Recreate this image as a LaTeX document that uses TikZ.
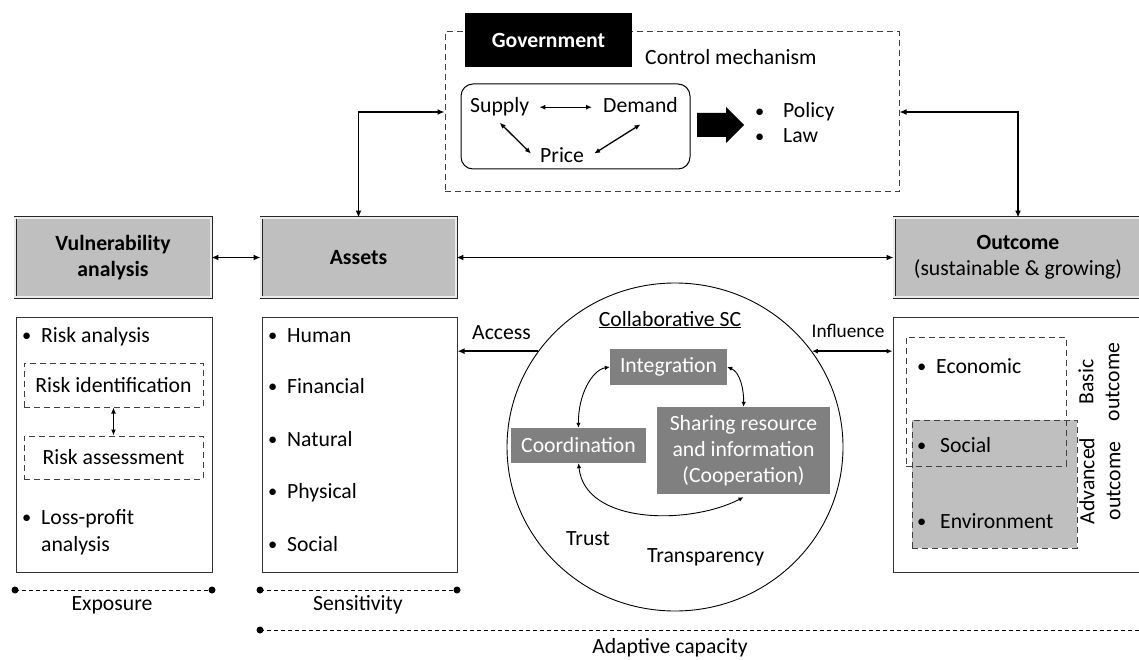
\documentclass[tikz,border=0pt]{standalone}
\usepackage{fontspec}
\setmainfont{Carlito}
\usetikzlibrary{arrows.meta,shapes.geometric,calc}

\newcommand\basefont{\fontsize{21.7}{26}\selectfont}
\newcommand\smallfont{\fontsize{19.3}{23}\selectfont}
\newcommand\bul[1]{\makebox[#1][l]{\raisebox{0.6pt}{\scalebox{0.85}{•}}}}

\begin{document}
\begin{tikzpicture}[x=1pt,y=-1pt,
  font=\basefont,
  mainbox/.style={draw=black!85, line width=0.9pt, double=gray!15,
    double distance=1.2pt, fill=gray!50, inner sep=0, align=center},
  panel/.style={draw=black!80, line width=1pt, fill=white, inner sep=0},
  dashbox/.style={draw=black!75, line width=1pt, dash pattern=on 6pt off 4pt, inner sep=0},
  darkbox/.style={fill=gray, text=white, inner sep=0, align=center},
  txt/.style={inner sep=0, anchor=base west},
  ctxt/.style={inner sep=0, anchor=base},
  scale line/.style={line width=0.9pt, dash pattern=on 4pt off 3pt},
  link/.style={line width=1.8pt, arrows={-{Latex[length=7pt,width=6pt]}}},
  twoway/.style={line width=1.8pt, arrows={{Latex[length=7pt,width=6pt]}-{Latex[length=7pt,width=6pt]}}},
  fineway/.style={line width=0.9pt, arrows={{Latex[length=5pt,width=4.5pt]}-{Latex[length=5pt,width=4.5pt]}}},
  midway2/.style={line width=1.3pt, arrows={{Latex[length=6pt,width=5pt]}-{Latex[length=6pt,width=5pt]}}},
]
\useasboundingbox (0,0) rectangle (1139,660);
\begin{scope}
\clip (0,0) rectangle (1139,660);

% ---------- government control mechanism ----------
\node[dashbox, minimum width=454pt, minimum height=160pt] (gov) at (672,112) {};
\node[fill=black, text=white, font=\basefont\bfseries, inner sep=0,
      minimum width=167pt, minimum height=54pt] (govt) at (548.5,40) {Government};
\node[txt] (ctrl) at (645,65) {Control mechanism};
\node[draw, line width=1pt, rounded corners=12pt, inner sep=0,
      minimum width=229pt, minimum height=85pt] (market) at (575.5,126.5) {};
\node[txt] (supply) at (470,113) {Supply};
\node[txt] (demand) at (603,113) {Demand};
\node[txt] (price) at (540,163) {Price};
\draw[midway2, shorten <=10pt, shorten >=11pt] (supply.east) -- (supply.east -| demand.west);
\draw[midway2] ($(supply.south)+(0,6)$) -- ($(price.west)+(-9,-2)$);
\draw[midway2] ($(demand.south)+(0,11)$) -- ($(price.east)+(10,-2)$);
\fill (697,113) -- (726,113) -- (726,107) -- (744,125) -- (726,143) -- (726,137) -- (697,137) -- cycle;
\node[txt] (policy) at (755,118) {\bul{28pt}Policy};
\node[txt] (law) at (755,143) {\bul{28pt}Law};

% ---------- main row ----------
\node[mainbox, minimum width=196pt, minimum height=79pt] (vuln) at (113,257.5)
  {\textbf{Vulnerability}\\\textbf{analysis}};
\node[mainbox, minimum width=195pt, minimum height=79pt] (assets) at (358.5,257.5)
  {\textbf{Assets}};
\node[mainbox, minimum width=248pt, minimum height=79pt] (outcome) at (1018,257.5)
  {\textbf{Outcome}\\(sustainable \& growing)};

\draw[twoway] (vuln.east) -- (assets.west);
\draw[twoway] (assets.east) -- (outcome.west);
\draw[twoway] (assets.north) |- (gov.west);
\draw[twoway] (gov.east) -| (outcome.north);

% ---------- exposure panel ----------
\node[panel, minimum width=196pt, minimum height=255pt] (vulnp) at (114,444.5) {};
\node[txt] (riskan) at (22,342) {\bul{19pt}Risk analysis};
\node[dashbox, minimum width=179pt, minimum height=44pt] (riskid) at (113.5,385) {Risk identification};
\node[dashbox, minimum width=179pt, minimum height=43pt] (riskas) at (113.5,457.5) {Risk assessment};
\draw[midway2, line width=1.5pt] (riskid.south) -- (riskas.north);
\node[txt] (loss) at (22,524) {\bul{19pt}Loss-profit};
\node[txt] (lossb) at (41,551) {analysis};

% ---------- sensitivity panel ----------
\node[panel, minimum width=195pt, minimum height=255pt] (assetsp) at (359.5,444.5) {};
\node[txt] (human) at (268,342) {\bul{19pt}Human};
\node[txt] (financial) at (268,393) {\bul{19pt}Financial};
\node[txt] (natural) at (268,446) {\bul{19pt}Natural};
\node[txt] (physical) at (268,498) {\bul{19pt}Physical};
\node[txt] (social) at (268,551) {\bul{19pt}Social};

% ---------- collaborative supply chain ----------
\node[draw, ellipse, line width=0.9pt, inner sep=0,
      minimum width=336pt, minimum height=328pt] (csc) at (675,447) {};
\node[ctxt] (csctitle) at (670,326) {\underline{Collaborative SC}};
\node[txt] (access) at (472,339) {Access};
\node[ctxt, font=\smallfont] (influence) at (848,337) {Influence};
\draw[link] (csc.145) -- (csc.145 -| assetsp.east);

\node[darkbox, minimum width=117pt, minimum height=36pt] (integ) at (668.5,367) {Integration};
\node[darkbox, minimum width=135pt, minimum height=35pt] (coord) at (578.5,445.5) {Coordination};
\node[darkbox, minimum width=173pt, minimum height=87pt] (share) at (743.5,450.5)
  {Sharing resource\\and information\\(Cooperation)};
\draw[fineway] (integ.west) .. controls (592,370) and (578,395) .. (coord.north);
\draw[fineway] (integ.east) .. controls (740,372) and (744,390) .. (share.north);
\draw[fineway] (coord.south) .. controls (585,525) and (690,525) .. ($(share.south)+(0,3)$);
\node[txt] (trust) at (566,545) {Trust};
\node[txt] (transp) at (647,562) {Transparency};

% ---------- outcome panel ----------
\node[panel, minimum width=252pt, minimum height=255pt] (outp) at (1019,444.5) {};
\draw[midway2, line width=1.5pt] (csc.35) -- (csc.35 -| outp.west);
\node[dashbox, fill=gray!50, minimum width=165pt, minimum height=128pt] (adv) at (994.5,484) {};
\node[dashbox, minimum width=160pt, minimum height=129pt] (basic) at (986,401.5) {};
\node[txt] (econ) at (917,373) {\bul{19pt}Economic};
\node[txt] (soc) at (917,452) {\bul{23pt}Social};
\node[txt] (env) at (917,528) {\bul{23pt}Environment};
\node[inner sep=0, rotate=90, align=center] (basiclbl) at (1099,382) {Basic\\outcome};
\node[inner sep=0, rotate=90, align=center] (advlbl) at (1100,481) {Advanced\\outcome};

% ---------- scales ----------
\coordinate (ex1) at (15,590);  \coordinate (ex2) at (212,590);
\coordinate (se1) at (260,590); \coordinate (se2) at (457,590);
\coordinate (ad1) at (260,630); \coordinate (ad2) at (1150,630);
\draw[scale line] (ex1) -- (ex2);
\draw[scale line] (se1) -- (se2);
\draw[scale line] (ad1) -- (ad2);
\foreach \p in {ex1,ex2,se1,se2,ad1} \fill (\p) circle (3.5pt);
\node[ctxt] (expo) at (112,610) {Exposure};
\node[ctxt] (sens) at (358,610) {Sensitivity};
\node[ctxt] (adapt) at (670,653) {Adaptive capacity};
\end{scope}
\end{tikzpicture}
\end{document}
